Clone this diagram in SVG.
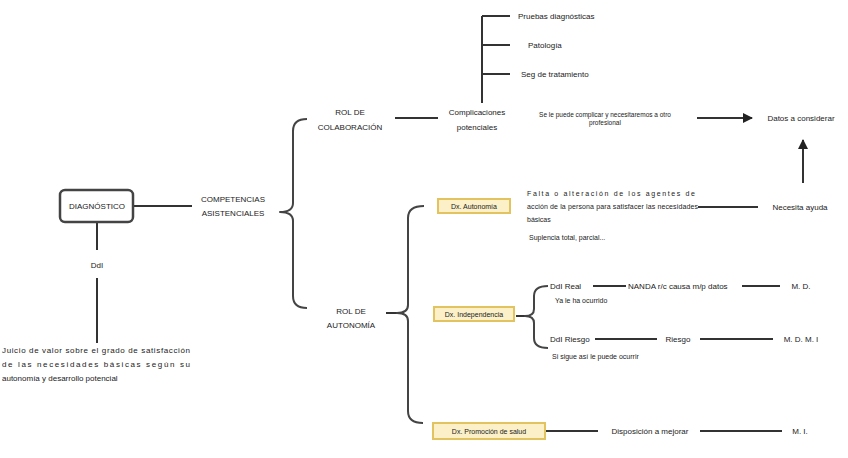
<svg xmlns="http://www.w3.org/2000/svg" width="848" height="458" viewBox="0 0 848 458">
<defs>
<style>
text{font-family:"Liberation Sans",Arial,sans-serif;font-size:8px;fill:#222;dominant-baseline:central}
.c{text-anchor:middle}
.s{font-size:7px}
.xs{font-size:6.5px}
.ln{stroke:#333;stroke-width:2;fill:none}
.br{stroke:#444;stroke-width:2;fill:none;stroke-linejoin:round}
.dx{fill:#fbf0c8;stroke:#e2c35f;stroke-width:2}
.main{fill:#fff;stroke:#444;stroke-width:2.5}
</style>
<marker id="ah" viewBox="0 0 10 10" refX="9" refY="5" markerWidth="5" markerHeight="5" orient="auto" markerUnits="strokeWidth">
<path d="M0,0 L10,5 L0,10 Z" fill="#222"/>
</marker>
</defs>
<rect width="848" height="458" fill="#fff"/>

<g id="connectors">
<line class="ln" x1="133" y1="206" x2="192" y2="206"/>
<line class="ln" x1="97" y1="222" x2="97" y2="250"/>
<line class="ln" x1="97" y1="278" x2="97" y2="343"/>
<path class="br" d="M307,119 Q293,119 293,131 L293,203 Q293,212 280,212 Q293,212 293,221 L293,296 Q293,308 307,308"/>
<line class="ln" x1="395" y1="118" x2="438" y2="118"/>
<line class="ln" x1="482" y1="16" x2="482" y2="103"/>
<line class="ln" x1="482" y1="16" x2="510" y2="16"/>
<line class="ln" x1="482" y1="45" x2="510" y2="45"/>
<line class="ln" x1="482" y1="74" x2="510" y2="74"/>
<line class="ln" x1="697" y1="118" x2="752" y2="118" marker-end="url(#ah)"/>
<line class="ln" x1="803" y1="183" x2="803" y2="140" marker-end="url(#ah)"/>
<line class="ln" x1="698" y1="207" x2="758" y2="207"/>
<line class="ln" x1="386" y1="313" x2="397" y2="313"/>
<path class="br" d="M424,206 Q408,206 408,218 L408,305 Q408,313 397,313 Q408,313 408,321 L408,411 Q408,423 423,423"/>
<line class="ln" x1="516" y1="316" x2="525" y2="316"/>
<path class="br" d="M548,286 Q534,286 534,296 L534,309 Q534,316 525,316 Q534,316 534,323 L534,338 Q534,348 548,348"/>
<line class="ln" x1="593" y1="286" x2="626" y2="286"/>
<line class="ln" x1="742" y1="286" x2="780" y2="286"/>
<line class="ln" x1="595" y1="339" x2="657" y2="339"/>
<line class="ln" x1="700" y1="339" x2="773" y2="339"/>
<line class="ln" x1="545" y1="431" x2="598" y2="431"/>
<line class="ln" x1="700" y1="431" x2="782" y2="431"/>
</g>

<g id="diagnostico">
<rect class="main" x="60" y="190" width="73" height="32" rx="5"/>
<text class="c" x="97" y="206">DIAGNÓSTICO</text>
</g>
<g id="competencias">
<text class="c" x="233" y="199">COMPETENCIAS</text>
<text class="c" x="233" y="213">ASISTENCIALES</text>
</g>
<g id="ddi"><text class="c" x="97" y="265">DdI</text></g>
<g id="juicio">
<text x="2" y="350" textLength="188" lengthAdjust="spacing">Juicio de valor sobre el grado de satisfacción</text>
<text x="2" y="364" textLength="188" lengthAdjust="spacing">de las necesidades básicas según su</text>
<text x="2" y="378">autonomía y desarrollo potencial</text>
</g>
<g id="rol-colaboracion">
<text class="c" x="350" y="112">ROL DE</text>
<text class="c" x="350" y="127">COLABORACIÓN</text>
</g>
<g id="complicaciones">
<text class="c" x="477" y="112">Complicaciones</text>
<text class="c" x="477" y="127">potenciales</text>
</g>
<g id="pruebas"><text x="518" y="16">Pruebas diagnósticas</text></g>
<g id="patologia"><text x="528" y="45">Patología</text></g>
<g id="seguimiento"><text x="521" y="74">Seg de tratamiento</text></g>
<g id="se-le-puede">
<text class="c xs" x="605" y="114">Se le puede complicar y necesitaremos a otro</text>
<text class="c xs" x="605" y="122">profesional</text>
</g>
<g id="datos"><text class="c" x="801" y="118">Datos a considerar</text></g>
<g id="necesita"><text class="c" x="800" y="207">Necesita ayuda</text></g>
<g id="rol-autonomia">
<text class="c" x="351" y="311">ROL DE</text>
<text class="c" x="351" y="325">AUTONOMÍA</text>
</g>
<g id="dx-autonomia">
<rect class="dx" x="438" y="199" width="72" height="14"/>
<text class="c s" x="474" y="206">Dx. Autonomía</text>
</g>
<g id="falta">
<text class="s" x="527" y="193" textLength="168" lengthAdjust="spacing">Falta o alteración de los agentes de</text>
<text class="s" x="527" y="206" textLength="171" lengthAdjust="spacing">acción de la persona para satisfacer las necesidades</text>
<text class="s" x="527" y="219">básicas</text>
<text class="s" x="529" y="237">Suplencia total, parcial...</text>
</g>
<g id="dx-independencia">
<rect class="dx" x="434" y="307" width="80" height="14"/>
<text class="c s" x="474" y="314">Dx. Independencia</text>
</g>
<g id="ddi-real">
<text x="550" y="286">DdI Real</text>
<text class="s" x="555" y="300">Ya le ha ocurrido</text>
</g>
<g id="nanda"><text x="628" y="286">NANDA r/c causa m/p datos</text></g>
<g id="md1"><text class="c" x="801" y="286">M. D.</text></g>
<g id="ddi-riesgo">
<text x="550" y="339">DdI Riesgo</text>
<text class="s" x="552" y="356">Si sigue así le puede ocurrir</text>
</g>
<g id="riesgo"><text class="c" x="678" y="339">Riesgo</text></g>
<g id="mdmi"><text class="c" x="801" y="339">M. D. M. I</text></g>
<g id="dx-promocion">
<rect class="dx" x="433" y="423" width="112" height="16"/>
<text class="c s" x="489" y="431">Dx. Promoción de salud</text>
</g>
<g id="disposicion"><text class="c" x="650" y="431">Disposición a mejorar</text></g>
<g id="mi"><text class="c" x="800" y="431">M. I.</text></g>
</svg>
